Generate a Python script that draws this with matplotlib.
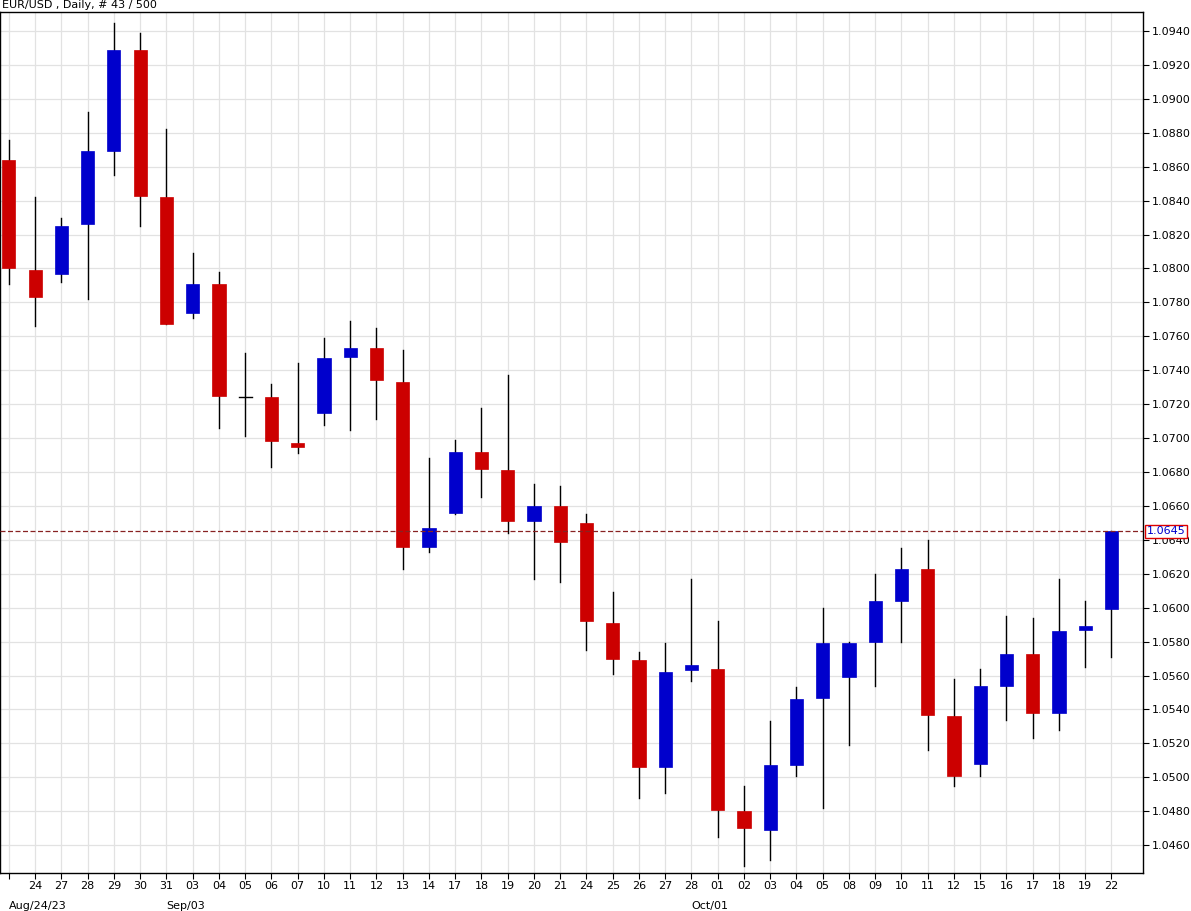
import matplotlib
matplotlib.use("Agg")
import matplotlib.pyplot as plt
from matplotlib.patches import Rectangle

days = ["23","24","27","28","29","30","31","03","04","05","06","07","10","11","12","13","14","17","18","19","20","21",
        "24","25","26","27","28","01","02","03","04","05","08","09","10","11","12","15","16","17","18","19","22"]
opens = [1.0864,1.0799,1.0797,1.0826,1.0869,1.0929,1.0842,1.0774,1.0791,1.0724,1.0724,1.0697,1.0715,1.0748,1.0753,1.0733,1.0636,1.0656,1.0692,1.0681,1.0651,1.0660,
         1.0650,1.0591,1.0569,1.0506,1.0563,1.0564,1.0480,1.0469,1.0507,1.0547,1.0559,1.0580,1.0604,1.0623,1.0536,1.0508,1.0554,1.0573,1.0538,1.0587,1.0599]
highs = [1.0876,1.0842,1.0830,1.0892,1.0945,1.0939,1.0882,1.0809,1.0798,1.0750,1.0732,1.0744,1.0759,1.0769,1.0765,1.0752,1.0688,1.0699,1.0718,1.0737,1.0673,1.0672,
         1.0655,1.0609,1.0574,1.0579,1.0617,1.0592,1.0495,1.0533,1.0553,1.0600,1.0580,1.0620,1.0635,1.0640,1.0558,1.0564,1.0595,1.0594,1.0617,1.0604,1.0645]
lows = [1.0791,1.0766,1.0792,1.0782,1.0855,1.0825,1.0767,1.0771,1.0706,1.0701,1.0683,1.0691,1.0708,1.0705,1.0711,1.0623,1.0633,1.0655,1.0665,1.0644,1.0617,1.0615,
        1.0575,1.0561,1.0488,1.0491,1.0557,1.0465,1.0448,1.0451,1.0501,1.0482,1.0519,1.0554,1.0580,1.0516,1.0495,1.0501,1.0534,1.0523,1.0528,1.0565,1.0571]
closes = [1.0800,1.0783,1.0825,1.0869,1.0929,1.0843,1.0767,1.0791,1.0725,1.0724,1.0698,1.0695,1.0747,1.0753,1.0734,1.0636,1.0647,1.0692,1.0682,1.0651,1.0660,1.0639,
          1.0592,1.0570,1.0506,1.0562,1.0566,1.0481,1.0470,1.0507,1.0546,1.0579,1.0579,1.0604,1.0623,1.0537,1.0501,1.0554,1.0573,1.0538,1.0586,1.0589,1.0645]
month_labels = {1: "Aug/24/23", 7: "Sep/03", 27: "Oct/01"}
last_price = 1.0645
y_ticks = [1.0460 + 0.002 * i for i in range(25)]

fig = plt.figure(figsize=(11.91, 9.11), dpi=100, facecolor="white")
ax = fig.add_axes([0.0, 1 - 873 / 911, 1143 / 1191, (873 - 12) / 911])
ax.set_facecolor("white")
n = len(days)
ax.set_xlim(-0.34, 43.2)
ax.set_ylim(1.04436, 1.09512)

for yt in y_ticks:
    ax.axhline(yt, color="#e2e2e2", lw=0.9, zorder=0)
for i in range(n):
    ax.axvline(i, color="#e2e2e2", lw=0.9, zorder=0)

w = 0.5
for i in range(n):
    o, h, l, c = opens[i], highs[i], lows[i], closes[i]
    col = "#0000cc" if c >= o else "#cc0000"
    ax.plot([i, i], [l, h], color="black", lw=1, zorder=2)
    b = min(o, c)
    hgt = abs(c - o)
    if hgt < 0.00006:
        ax.plot([i - w / 2, i + w / 2], [o, o], color="black", lw=1, zorder=3)
    else:
        ax.add_patch(Rectangle((i - w / 2, b), w, hgt, facecolor=col, edgecolor=col, lw=0.5, zorder=3))

ax.axhline(last_price, color="#882222", lw=0.9, ls=(0, (4, 2)), zorder=4)

ax.yaxis.tick_right()
ax.set_yticks(y_ticks)
ax.set_yticklabels([f"{v:.4f}" for v in y_ticks], fontsize=8)
ax.set_xticks(range(n))
ax.set_xticklabels(["" if i == 0 else d for i, d in enumerate(days)], fontsize=8)
ax.tick_params(axis="both", length=4, width=0.8, pad=2, colors="black")
for idx, lab in month_labels.items():
    ax.text(idx - 1.0, -0.033, lab, transform=ax.get_xaxis_transform(), fontsize=8, ha="left", va="top")
for s in ax.spines.values():
    s.set_color("black"); s.set_linewidth(1)

ax.text(1.003, last_price, f"{last_price:.4f}", transform=ax.get_yaxis_transform(), fontsize=8,
        color="#0000cc", va="center", ha="left",
        bbox=dict(boxstyle="square,pad=0.15", facecolor="white", edgecolor="#dd0000", lw=1), zorder=10)
fig.text(2 / 1191, 1 - 5 / 911, "EUR/USD , Daily, # 43 / 500", fontsize=8, va="center", ha="left")

fig.savefig("out.png", dpi=100, facecolor="white")
